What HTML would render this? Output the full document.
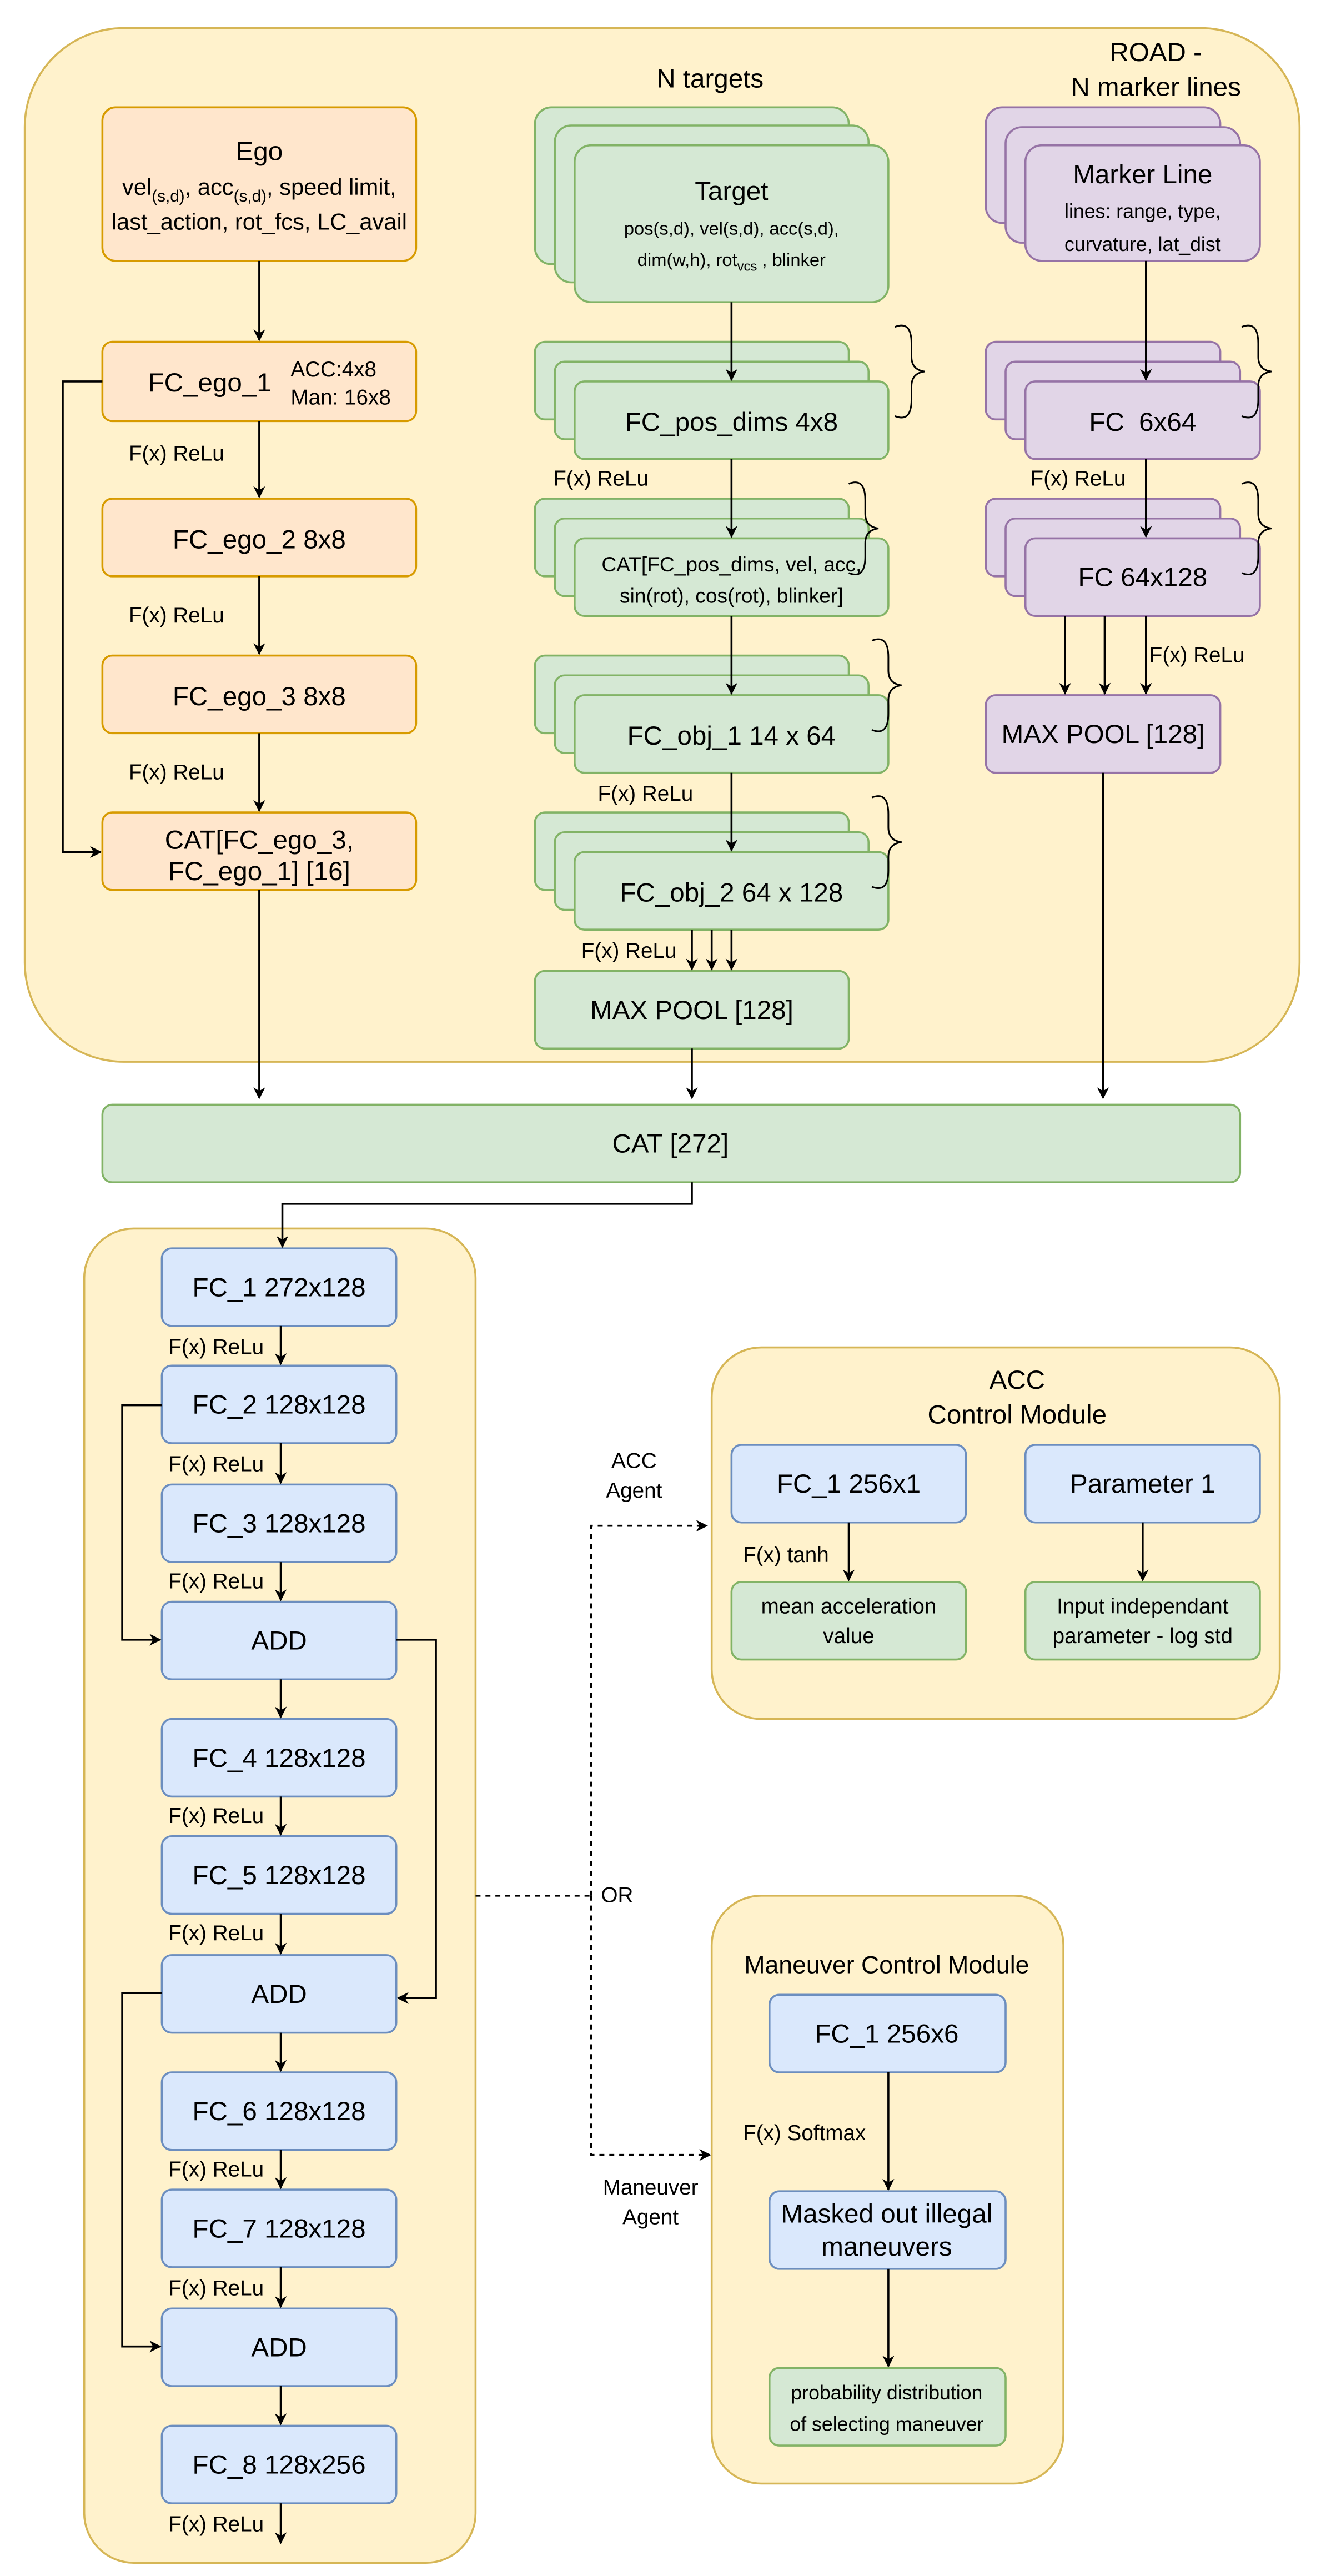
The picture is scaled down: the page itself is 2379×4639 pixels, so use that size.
<!DOCTYPE html>
<html><head><meta charset="utf-8"><style>
html,body{margin:0;padding:0;background:#fff}
svg{display:block}
text{font-family:"Liberation Sans",sans-serif;fill:#000}
</style></head><body>
<svg width="2379" height="4639" viewBox="0 0 800 1560" preserveAspectRatio="none" xmlns="http://www.w3.org/2000/svg">
<defs>
<marker id="a" viewBox="0 0 10 10" refX="9" refY="5" markerWidth="6" markerHeight="6" orient="auto"><path d="M0,0 L10,5 L0,10 L3,5 z" fill="#000"/></marker>
</defs>
<g stroke-width="1.2">
<rect x="15" y="17" width="772" height="626" rx="60" fill="#fff2cc" stroke="#d6b656"/>
<rect x="51" y="744" width="237" height="808" rx="30" fill="#fff2cc" stroke="#d6b656"/>
<rect x="431" y="816" width="344" height="225" rx="30" fill="#fff2cc" stroke="#d6b656"/>
<rect x="431" y="1148" width="213" height="356" rx="30" fill="#fff2cc" stroke="#d6b656"/>

<g fill="#ffe6cc" stroke="#d79b00">
<rect x="62" y="65" width="190" height="93" rx="8"/>
<rect x="62" y="207" width="190" height="48" rx="6"/>
<rect x="62" y="302" width="190" height="47" rx="6"/>
<rect x="62" y="397" width="190" height="47" rx="6"/>
<rect x="62" y="492" width="190" height="47" rx="6"/>
</g>

<g fill="#d5e8d4" stroke="#82b366">
<rect x="324" y="65" width="190" height="95" rx="10"/><rect x="336" y="76" width="190" height="95" rx="10"/><rect x="348" y="88" width="190" height="95" rx="10"/>
<rect x="324" y="207" width="190" height="47" rx="6"/><rect x="336" y="219" width="190" height="47" rx="6"/><rect x="348" y="231" width="190" height="47" rx="6"/>
<rect x="324" y="302" width="190" height="47" rx="6"/><rect x="336" y="314" width="190" height="47" rx="6"/><rect x="348" y="326" width="190" height="47" rx="6"/>
<rect x="324" y="397" width="190" height="47" rx="6"/><rect x="336" y="409" width="190" height="47" rx="6"/><rect x="348" y="421" width="190" height="47" rx="6"/>
<rect x="324" y="492" width="190" height="47" rx="6"/><rect x="336" y="504" width="190" height="47" rx="6"/><rect x="348" y="516" width="190" height="47" rx="6"/>
<rect x="324" y="588" width="190" height="47" rx="6"/>
<rect x="62" y="669" width="689" height="47" rx="6"/>
<rect x="443" y="958" width="142" height="47" rx="6"/>
<rect x="621" y="958" width="142" height="47" rx="6"/>
<rect x="466" y="1434" width="143" height="47" rx="6"/>
</g>

<g fill="#e1d5e7" stroke="#9673a6">
<rect x="597" y="65" width="142" height="70" rx="10"/><rect x="609" y="77" width="142" height="70" rx="10"/><rect x="621" y="88" width="142" height="70" rx="10"/>
<rect x="597" y="207" width="142" height="47" rx="6"/><rect x="609" y="219" width="142" height="47" rx="6"/><rect x="621" y="231" width="142" height="47" rx="6"/>
<rect x="597" y="302" width="142" height="47" rx="6"/><rect x="609" y="314" width="142" height="47" rx="6"/><rect x="621" y="326" width="142" height="47" rx="6"/>
<rect x="597" y="421" width="142" height="47" rx="6"/>
</g>

<g fill="#dae8fc" stroke="#6c8ebf">
<rect x="98" y="756" width="142" height="47" rx="6"/>
<rect x="98" y="827" width="142" height="47" rx="6"/>
<rect x="98" y="899" width="142" height="47" rx="6"/>
<rect x="98" y="970" width="142" height="47" rx="6"/>
<rect x="98" y="1041" width="142" height="47" rx="6"/>
<rect x="98" y="1112" width="142" height="47" rx="6"/>
<rect x="98" y="1184" width="142" height="47" rx="6"/>
<rect x="98" y="1255" width="142" height="47" rx="6"/>
<rect x="98" y="1326" width="142" height="47" rx="6"/>
<rect x="98" y="1398" width="142" height="47" rx="6"/>
<rect x="98" y="1469" width="142" height="47" rx="6"/>
<rect x="443" y="875" width="142" height="47" rx="6"/>
<rect x="621" y="875" width="142" height="47" rx="6"/>
<rect x="466" y="1208" width="143" height="47" rx="6"/>
<rect x="466" y="1327" width="143" height="47" rx="6"/>
</g>

<g fill="none" stroke="#000" stroke-width="1">
<path d="M528,198 q10,-4 10,10 v8 q0,8 8,9 q-8,1 -8,9 v8 q0,14 -10,10" transform="translate(14,0)"/>
<path d="M514,293 q10,-4 10,10 v8 q0,8 8,9 q-8,1 -8,9 v8 q0,14 -10,10"/>
<path d="M514,388 q10,-4 10,10 v8 q0,8 8,9 q-8,1 -8,9 v8 q0,14 -10,10" transform="translate(14,0)"/>
<path d="M514,483 q10,-4 10,10 v8 q0,8 8,9 q-8,1 -8,9 v8 q0,14 -10,10" transform="translate(14,0)"/>
<path d="M752,198 q10,-4 10,10 v8 q0,8 8,9 q-8,1 -8,9 v8 q0,14 -10,10"/>
<path d="M752,293 q10,-4 10,10 v8 q0,8 8,9 q-8,1 -8,9 v8 q0,14 -10,10"/>
</g>

<g fill="none" stroke="#000" stroke-width="1.2" marker-end="url(#a)">
<path d="M157,158 V206"/><path d="M157,255 V301"/><path d="M157,349 V396"/><path d="M157,444 V491"/>
<path d="M62,231 H38 V516 H61"/>
<path d="M157,539 V665"/>
<path d="M443,183 V230"/><path d="M443,278 V325"/><path d="M443,373 V420"/><path d="M443,468 V515"/>
<path d="M419,563 V587"/><path d="M431,563 V587"/><path d="M443,563 V587"/>
<path d="M419,635 V665"/>
<path d="M694,158 V230"/><path d="M694,278 V325"/>
<path d="M645,373 V420"/><path d="M669,373 V420"/><path d="M694,373 V420"/>
<path d="M668,468 V665"/>
<path d="M419,716 V729 H171 V755"/>
<path d="M170,803 V826"/><path d="M170,874 V898"/><path d="M170,946 V969"/><path d="M170,1017 V1040"/>
<path d="M170,1088 V1111"/><path d="M170,1159 V1183"/><path d="M170,1231 V1254"/><path d="M170,1302 V1325"/>
<path d="M170,1373 V1397"/><path d="M170,1445 V1468"/><path d="M170,1516 V1540"/>
<path d="M98,851 H74 V993 H97"/>
<path d="M240,993 H264 V1210 H241"/>
<path d="M98,1207 H74 V1421 H97"/>
<path d="M514,922 V957"/><path d="M692,922 V957"/>
<path d="M538,1255 V1326"/><path d="M538,1374 V1433"/>
<path d="M358,1148 V924 H428" stroke-dasharray="3,3"/>
<path d="M358,1148 V1305 H430" stroke-dasharray="3,3"/>
</g>
<path d="M288,1148 H358" fill="none" stroke="#000" stroke-dasharray="3,3"/>
</g>

<g text-anchor="middle" font-size="16">
<text x="157" y="97">Ego</text>
<text x="157" y="118" font-size="14">vel<tspan font-size="10" dy="4">(s,d)</tspan><tspan dy="-4">, acc</tspan><tspan font-size="10" dy="4">(s,d)</tspan><tspan dy="-4">, speed limit,</tspan></text>
<text x="157" y="139" font-size="14">last_action, rot_fcs, LC_avail</text>
<text x="127" y="237">FC_ego_1</text>
<text x="157" y="332">FC_ego_2 8x8</text>
<text x="157" y="427">FC_ego_3 8x8</text>
<text x="157" y="514">CAT[FC_ego_3,</text>
<text x="157" y="533">FC_ego_1] [16]</text>
<text x="430" y="53">N targets</text>
<text x="700" y="37">ROAD -</text>
<text x="700" y="58">N marker lines</text>
<text x="443" y="121">Target</text>
<text x="443" y="142" font-size="11">pos(s,d), vel(s,d), acc(s,d),</text>
<text x="443" y="161" font-size="11">dim(w,h), rot<tspan font-size="8" dy="3">vcs</tspan><tspan dy="-3"> , blinker</tspan></text>
<text x="443" y="261">FC_pos_dims 4x8</text>
<text x="443" y="346" font-size="12.5">CAT[FC_pos_dims, vel, acc,</text>
<text x="443" y="365" font-size="12.5">sin(rot), cos(rot), blinker]</text>
<text x="443" y="451">FC_obj_1 14 x 64</text>
<text x="443" y="546">FC_obj_2 64 x 128</text>
<text x="419" y="617">MAX POOL [128]</text>
<text x="692" y="111">Marker Line</text>
<text x="692" y="132" font-size="12">lines: range, type,</text>
<text x="692" y="152" font-size="12">curvature, lat_dist</text>
<text x="692" y="261" xml:space="preserve">FC  6x64</text>
<text x="692" y="355">FC 64x128</text>
<text x="668" y="450">MAX POOL [128]</text>
<text x="406" y="698">CAT [272]</text>
<text x="169" y="785">FC_1 272x128</text>
<text x="169" y="856">FC_2 128x128</text>
<text x="169" y="928">FC_3 128x128</text>
<text x="169" y="999">ADD</text>
<text x="169" y="1070">FC_4 128x128</text>
<text x="169" y="1141">FC_5 128x128</text>
<text x="169" y="1213">ADD</text>
<text x="169" y="1284">FC_6 128x128</text>
<text x="169" y="1355">FC_7 128x128</text>
<text x="169" y="1427">ADD</text>
<text x="169" y="1498">FC_8 128x256</text>
<text x="616" y="841">ACC</text>
<text x="616" y="862">Control Module</text>
<text x="514" y="904">FC_1 256x1</text>
<text x="692" y="904">Parameter 1</text>
<text x="514" y="977" font-size="13">mean acceleration</text>
<text x="514" y="995" font-size="13">value</text>
<text x="692" y="977" font-size="13">Input independant</text>
<text x="692" y="995" font-size="13">parameter - log std</text>
<text x="537" y="1195" font-size="15">Maneuver Control Module</text>
<text x="537" y="1237">FC_1 256x6</text>
<text x="537" y="1346">Masked out illegal</text>
<text x="537" y="1366">maneuvers</text>
<text x="537" y="1453" font-size="12">probability distribution</text>
<text x="537" y="1472" font-size="12">of selecting maneuver</text>
<text x="384" y="889" font-size="13">ACC</text>
<text x="384" y="907" font-size="13">Agent</text>
<text x="394" y="1329" font-size="13">Maneuver</text>
<text x="394" y="1347" font-size="13">Agent</text>
</g>
<rect x="362" y="1139" width="26" height="16" fill="#fff"/>
<g font-size="13">
<text x="364" y="1152">OR</text>
<text x="176" y="228">ACC:4x8</text>
<text x="176" y="245">Man: 16x8</text>
<text x="78" y="279">F(x) ReLu</text>
<text x="78" y="377">F(x) ReLu</text>
<text x="78" y="472">F(x) ReLu</text>
<text x="335" y="294">F(x) ReLu</text>
<text x="362" y="485">F(x) ReLu</text>
<text x="352" y="580">F(x) ReLu</text>
<text x="624" y="294">F(x) ReLu</text>
<text x="696" y="401">F(x) ReLu</text>
<text x="102" y="820">F(x) ReLu</text>
<text x="102" y="891">F(x) ReLu</text>
<text x="102" y="962">F(x) ReLu</text>
<text x="102" y="1104">F(x) ReLu</text>
<text x="102" y="1175">F(x) ReLu</text>
<text x="102" y="1318">F(x) ReLu</text>
<text x="102" y="1390">F(x) ReLu</text>
<text x="102" y="1533">F(x) ReLu</text>
<text x="450" y="946">F(x) tanh</text>
<text x="450" y="1296">F(x) Softmax</text>
</g>
</svg>
</body></html>
